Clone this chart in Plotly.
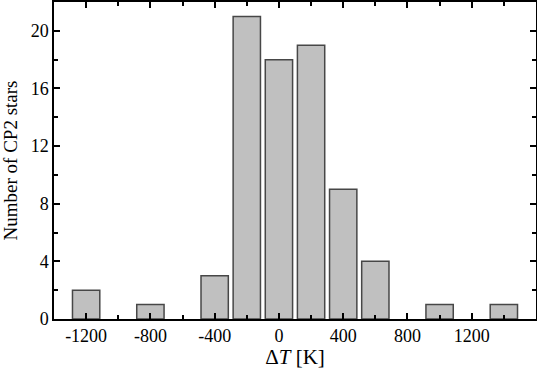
import plotly.graph_objects as go

# histogram of temperature differences, 200 K bins
bin_centers = [-1200, -800, -400, -200, 0, 200, 400, 600, 1000, 1400]
counts = [2, 1, 3, 21, 18, 19, 9, 4, 1, 1]

x_ticks = [-1200, -800, -400, 0, 400, 800, 1200]
y_ticks = [0, 4, 8, 12, 16, 20]

fig = go.Figure()
fig.add_trace(go.Bar(
    x=bin_centers, y=counts, width=170,
    marker=dict(color="#c0c0c0", line=dict(color="#474747", width=1.5)),
))

axis_common = dict(
    showgrid=False, zeroline=False, showline=True, linecolor="black", linewidth=1.5,
    mirror="ticks", ticks="inside", ticklen=6, tickwidth=1.5, tickcolor="black",
    layer="above traces", automargin=False,
    tickfont=dict(family="Liberation Serif", size=18, color="black"),
)

fig.update_layout(
    width=537, height=369,
    margin=dict(l=54, r=1, t=2, b=50),
    plot_bgcolor="white", paper_bgcolor="white",
    showlegend=False,
    font=dict(family="Liberation Serif", color="black"),
    xaxis=dict(
        range=[-1400, 1600], tickvals=x_ticks, ticktext=[str(v) for v in x_ticks],
        minor=dict(ticks="inside", dtick=200, tick0=0, ticklen=4, tickwidth=1.5, tickcolor="black"),
        title=dict(text="Δ<i>T</i> [K]", font=dict(size=21), standoff=2),
        **axis_common,
    ),
    yaxis=dict(
        range=[0, 22], tickvals=y_ticks,
        minor=dict(ticks="inside", dtick=2, tick0=0, ticklen=4, tickwidth=1.5, tickcolor="black"),
        title=dict(text="Number of CP2 stars", font=dict(size=19), standoff=10),
        **axis_common,
    ),
)

# page body has a default 8px margin; drop it so the figure fills the window
fig.write_html("out.html", config={"displayModeBar": False},
               post_script="document.body.style.margin='0';")
